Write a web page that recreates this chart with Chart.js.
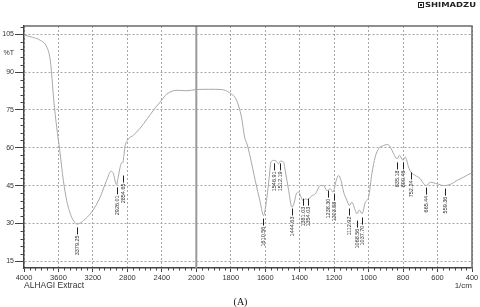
<!DOCTYPE html>
<html lang="en">
<head>
<meta charset="UTF-8" />
<title>ALHAGI Extract FTIR</title>
<style>
  body { margin: 0; background: #fff; }
  #wrap { width: 480px; height: 307px; }
</style>
</head>
<body>
<div id="wrap"><canvas id="ir" width="480" height="307"></canvas></div>

<script src="https://cdn.jsdelivr.net/npm/chart.js"></script>
<script>
  // spectrum: wavenumber (1/cm) and %T
  const wavenumbers = [4000, 3900, 3814, 3736, 3698, 3681, 3655, 3620, 3585, 3543, 3504, 3446, 3400, 3379, 3340, 3310, 3216, 3116, 3042, 2988, 2962, 2940, 2926, 2907, 2879, 2860, 2854, 2840, 2829, 2799, 2729, 2651, 2570, 2497, 2419, 2342, 2225, 2109, 2000, 1922, 1855, 1806, 1767, 1738, 1719, 1706, 1687, 1658, 1629, 1610, 1590, 1577, 1567, 1552, 1536, 1523, 1513, 1493, 1484, 1464, 1445, 1431, 1420, 1406, 1392, 1381, 1367, 1354, 1329, 1309, 1280, 1261, 1242, 1222, 1207, 1188, 1174, 1160, 1145, 1126, 1112, 1097, 1077, 1068, 1054, 1038, 1019, 1000, 981, 962, 942, 913, 890, 874, 855, 835, 820, 800, 787, 768, 754, 729, 700, 681, 665, 642, 603, 565, 527, 488, 450, 411, 400];
  const transmittance = [104.7, 103.8, 102.7, 100.0, 95.4, 90.1, 79.0, 68.0, 58.9, 47.0, 39.0, 32.4, 30.0, 29.7, 30.3, 31.1, 34.4, 40.4, 47.0, 50.7, 49.7, 46.5, 45.3, 48.3, 53.0, 54.2, 54.0, 57.0, 60.3, 63.0, 65.0, 67.8, 71.5, 74.9, 78.2, 81.3, 82.8, 82.6, 83.1, 83.2, 83.1, 81.8, 78.9, 72.2, 64.0, 61.6, 56.3, 47.0, 38.4, 33.1, 40.4, 48.3, 54.3, 55.0, 54.7, 53.6, 54.7, 54.3, 51.0, 43.0, 36.4, 38.4, 41.7, 42.4, 40.4, 39.1, 39.7, 39.5, 41.0, 41.7, 45.0, 45.0, 43.0, 43.7, 42.4, 47.0, 49.0, 47.0, 42.4, 39.1, 37.1, 38.4, 35.0, 33.8, 35.3, 33.8, 38.4, 40.4, 49.7, 56.3, 59.6, 60.9, 61.3, 60.3, 57.6, 55.6, 57.0, 55.0, 56.3, 52.3, 50.3, 49.0, 47.7, 45.7, 45.0, 46.3, 45.7, 45.0, 45.4, 47.0, 48.3, 49.7, 50.0];

  // peak table: label text and the %T level where each marker starts
  const peakLabels = ['3379.25', '2926.01', '2854.65', '1610.56', '1546.91', '1512.19', '1444.63', '1381.03', '1354.03', '1238.30', '1203.58', '1112.92', '1068.56', '1037.70', '835.18', '800.46', '752.24', '665.44', '559.36'];
  const peakLevels = [28.4, 44.3, 49.0, 31.9, 53.8, 53.8, 35.9, 39.8, 39.8, 43.0, 41.8, 35.9, 31.1, 32.3, 54.2, 54.2, 50.2, 44.2, 43.8];

  const xTickLabels = [4000, 3600, 3200, 2800, 2400, 2000, 1800, 1600, 1400, 1200, 1000, 800, 600, 400];
  const yTickLabels = [15, 30, 45, 60, 75, 90, 105];

  // x axis is compressed 2:1 above 2000 1/cm, like the instrument plot
  function toAxis(wn) { return wn > 2000 ? -(wn - 2000) / 2 : 2000 - wn; }
  function fromAxis(u) { return u < 0 ? 2000 - 2 * u : 2000 - u; }

  const points = wavenumbers.map((w, i) => ({ x: toAxis(w), y: transmittance[i] }));

  const decor = {
    id: 'decor',
    beforeDatasetsDraw(chart) {
      const { ctx, chartArea: a, scales: { x } } = chart;
      const bx = x.getPixelForValue(toAxis(2000));
      ctx.save();
      ctx.strokeStyle = '#9a9a9a';
      ctx.lineWidth = 2;
      ctx.beginPath();
      ctx.moveTo(bx, a.top);
      ctx.lineTo(bx, a.bottom);
      ctx.stroke();
      ctx.restore();
    },
    afterDatasetsDraw(chart) {
      const { ctx, scales: { x, y } } = chart;
      ctx.save();
      ctx.font = '5.5px "Liberation Sans"';
      ctx.fillStyle = '#333';
      ctx.strokeStyle = '#222';
      ctx.lineWidth = 1;
      peakLabels.forEach((lab, i) => {
        const px = Math.round(x.getPixelForValue(toAxis(parseFloat(lab)))) + 0.5;
        const py = y.getPixelForValue(peakLevels[i]);
        ctx.beginPath();
        ctx.moveTo(px, py);
        ctx.lineTo(px, py + 7);
        ctx.stroke();
        ctx.save();
        ctx.translate(px, py + 8);
        ctx.rotate(-Math.PI / 2);
        ctx.textAlign = 'right';
        ctx.textBaseline = 'middle';
        ctx.fillText(lab, 0, 0);
        ctx.restore();
      });
      ctx.restore();
    },
    afterDraw(chart) {
      const { ctx, chartArea: a, scales: { x, y } } = chart;
      ctx.save();
      // top and right frame
      ctx.strokeStyle = '#6a6a6a';
      ctx.lineWidth = 1.5;
      ctx.beginPath();
      ctx.moveTo(a.left, a.top);
      ctx.lineTo(a.right, a.top);
      ctx.lineTo(a.right, a.bottom);
      ctx.stroke();

      // minor ticks
      ctx.strokeStyle = '#444';
      ctx.lineWidth = 1;
      ctx.beginPath();
      for (let k = 0; k <= 78; k++) {
        if (k % 6 === 0) continue;
        const px = Math.round(x.getPixelForValue(-1000 + k * 200 / 6)) + 0.5;
        ctx.moveTo(px, a.bottom);
        ctx.lineTo(px, a.bottom + 2.5);
      }
      for (let v = 15; v <= 108; v += 3) {
        if (v % 15 === 0) continue;
        const py = Math.round(y.getPixelForValue(v)) + 0.5;
        ctx.moveTo(a.left - 3.5, py);
        ctx.lineTo(a.left, py);
      }
      ctx.stroke();

      // texts
      ctx.fillStyle = '#333';
      ctx.font = '7px "Liberation Sans"';
      ctx.textAlign = 'right';
      ctx.textBaseline = 'middle';
      ctx.fillText('%T', a.left - 10, y.getPixelForValue(97.6));

      ctx.font = '8.5px "Liberation Sans"';
      ctx.textAlign = 'left';
      ctx.fillText('ALHAGI Extract', a.left, 286);
      ctx.font = '8px "Liberation Sans"';
      ctx.textAlign = 'right';
      ctx.fillText('1/cm', a.right, 286);

      ctx.fillStyle = '#111';
      ctx.font = '10px "Liberation Serif"';
      ctx.textAlign = 'center';
      ctx.fillText('(A)', 240.5, 302);

      // SHIMADZU mark
      ctx.strokeStyle = '#222';
      ctx.lineWidth = 1;
      ctx.strokeRect(418.5, 2.5, 5, 5);
      ctx.fillStyle = '#222';
      ctx.fillRect(420, 4, 2, 2);
      ctx.font = 'bold 7px "DejaVu Sans"';
      ctx.textAlign = 'left';
      const w = ctx.measureText('SHIMADZU').width;
      ctx.translate(425, 5.5);
      ctx.scale(51 / w, 1);
      ctx.fillText('SHIMADZU', 0, 0);
      ctx.restore();
    }
  };

  new Chart(document.getElementById('ir'), {
    type: 'line',
    data: {
      datasets: [{
        data: points,
        borderColor: '#a8a8a8',
        borderWidth: 1,
        pointRadius: 0,
        cubicInterpolationMode: 'monotone',
        fill: false
      }]
    },
    options: {
      responsive: false,
      animation: false,
      layout: { padding: { top: 26, right: 8, left: 0, bottom: 0 } },
      plugins: { legend: { display: false }, tooltip: { enabled: false } },
      scales: {
        x: {
          type: 'linear',
          min: -1000,
          max: 1600,
          afterBuildTicks: s => { s.ticks = xTickLabels.map(w => ({ value: toAxis(w) })); },
          afterFit: s => { s.height = 39; },
          grid: {
            color: c => (c.tick && c.tick.value === 0) ? 'rgba(0,0,0,0)' : '#a6a6a6',
            lineWidth: 1,
            tickColor: '#444',
            tickLength: 4,
            tickWidth: 1,
            tickBorderDash: []
          },
          border: { display: true, color: '#444', width: 1.5, dash: [2, 2] },
          ticks: {
            autoSkip: false,
            maxRotation: 0,
            padding: 1,
            color: '#333',
            font: { family: 'Liberation Sans', size: 7.5 },
            callback: v => String(Math.round(fromAxis(v)))
          }
        },
        y: {
          type: 'linear',
          min: 12.3,
          max: 108.3,
          afterBuildTicks: s => { s.ticks = yTickLabels.map(v => ({ value: v })); },
          afterFit: s => { s.width = 24; },
          grid: {
            color: '#a6a6a6',
            lineWidth: 1,
            tickColor: '#444',
            tickLength: 9,
            tickWidth: 1,
            tickBorderDash: []
          },
          border: { display: true, color: '#444', width: 1.5, dash: [2, 2] },
          ticks: {
            padding: 1,
            color: '#333',
            font: { family: 'Liberation Sans', size: 7 }
          }
        }
      }
    },
    plugins: [decor]
  });
</script>
</body>
</html>
